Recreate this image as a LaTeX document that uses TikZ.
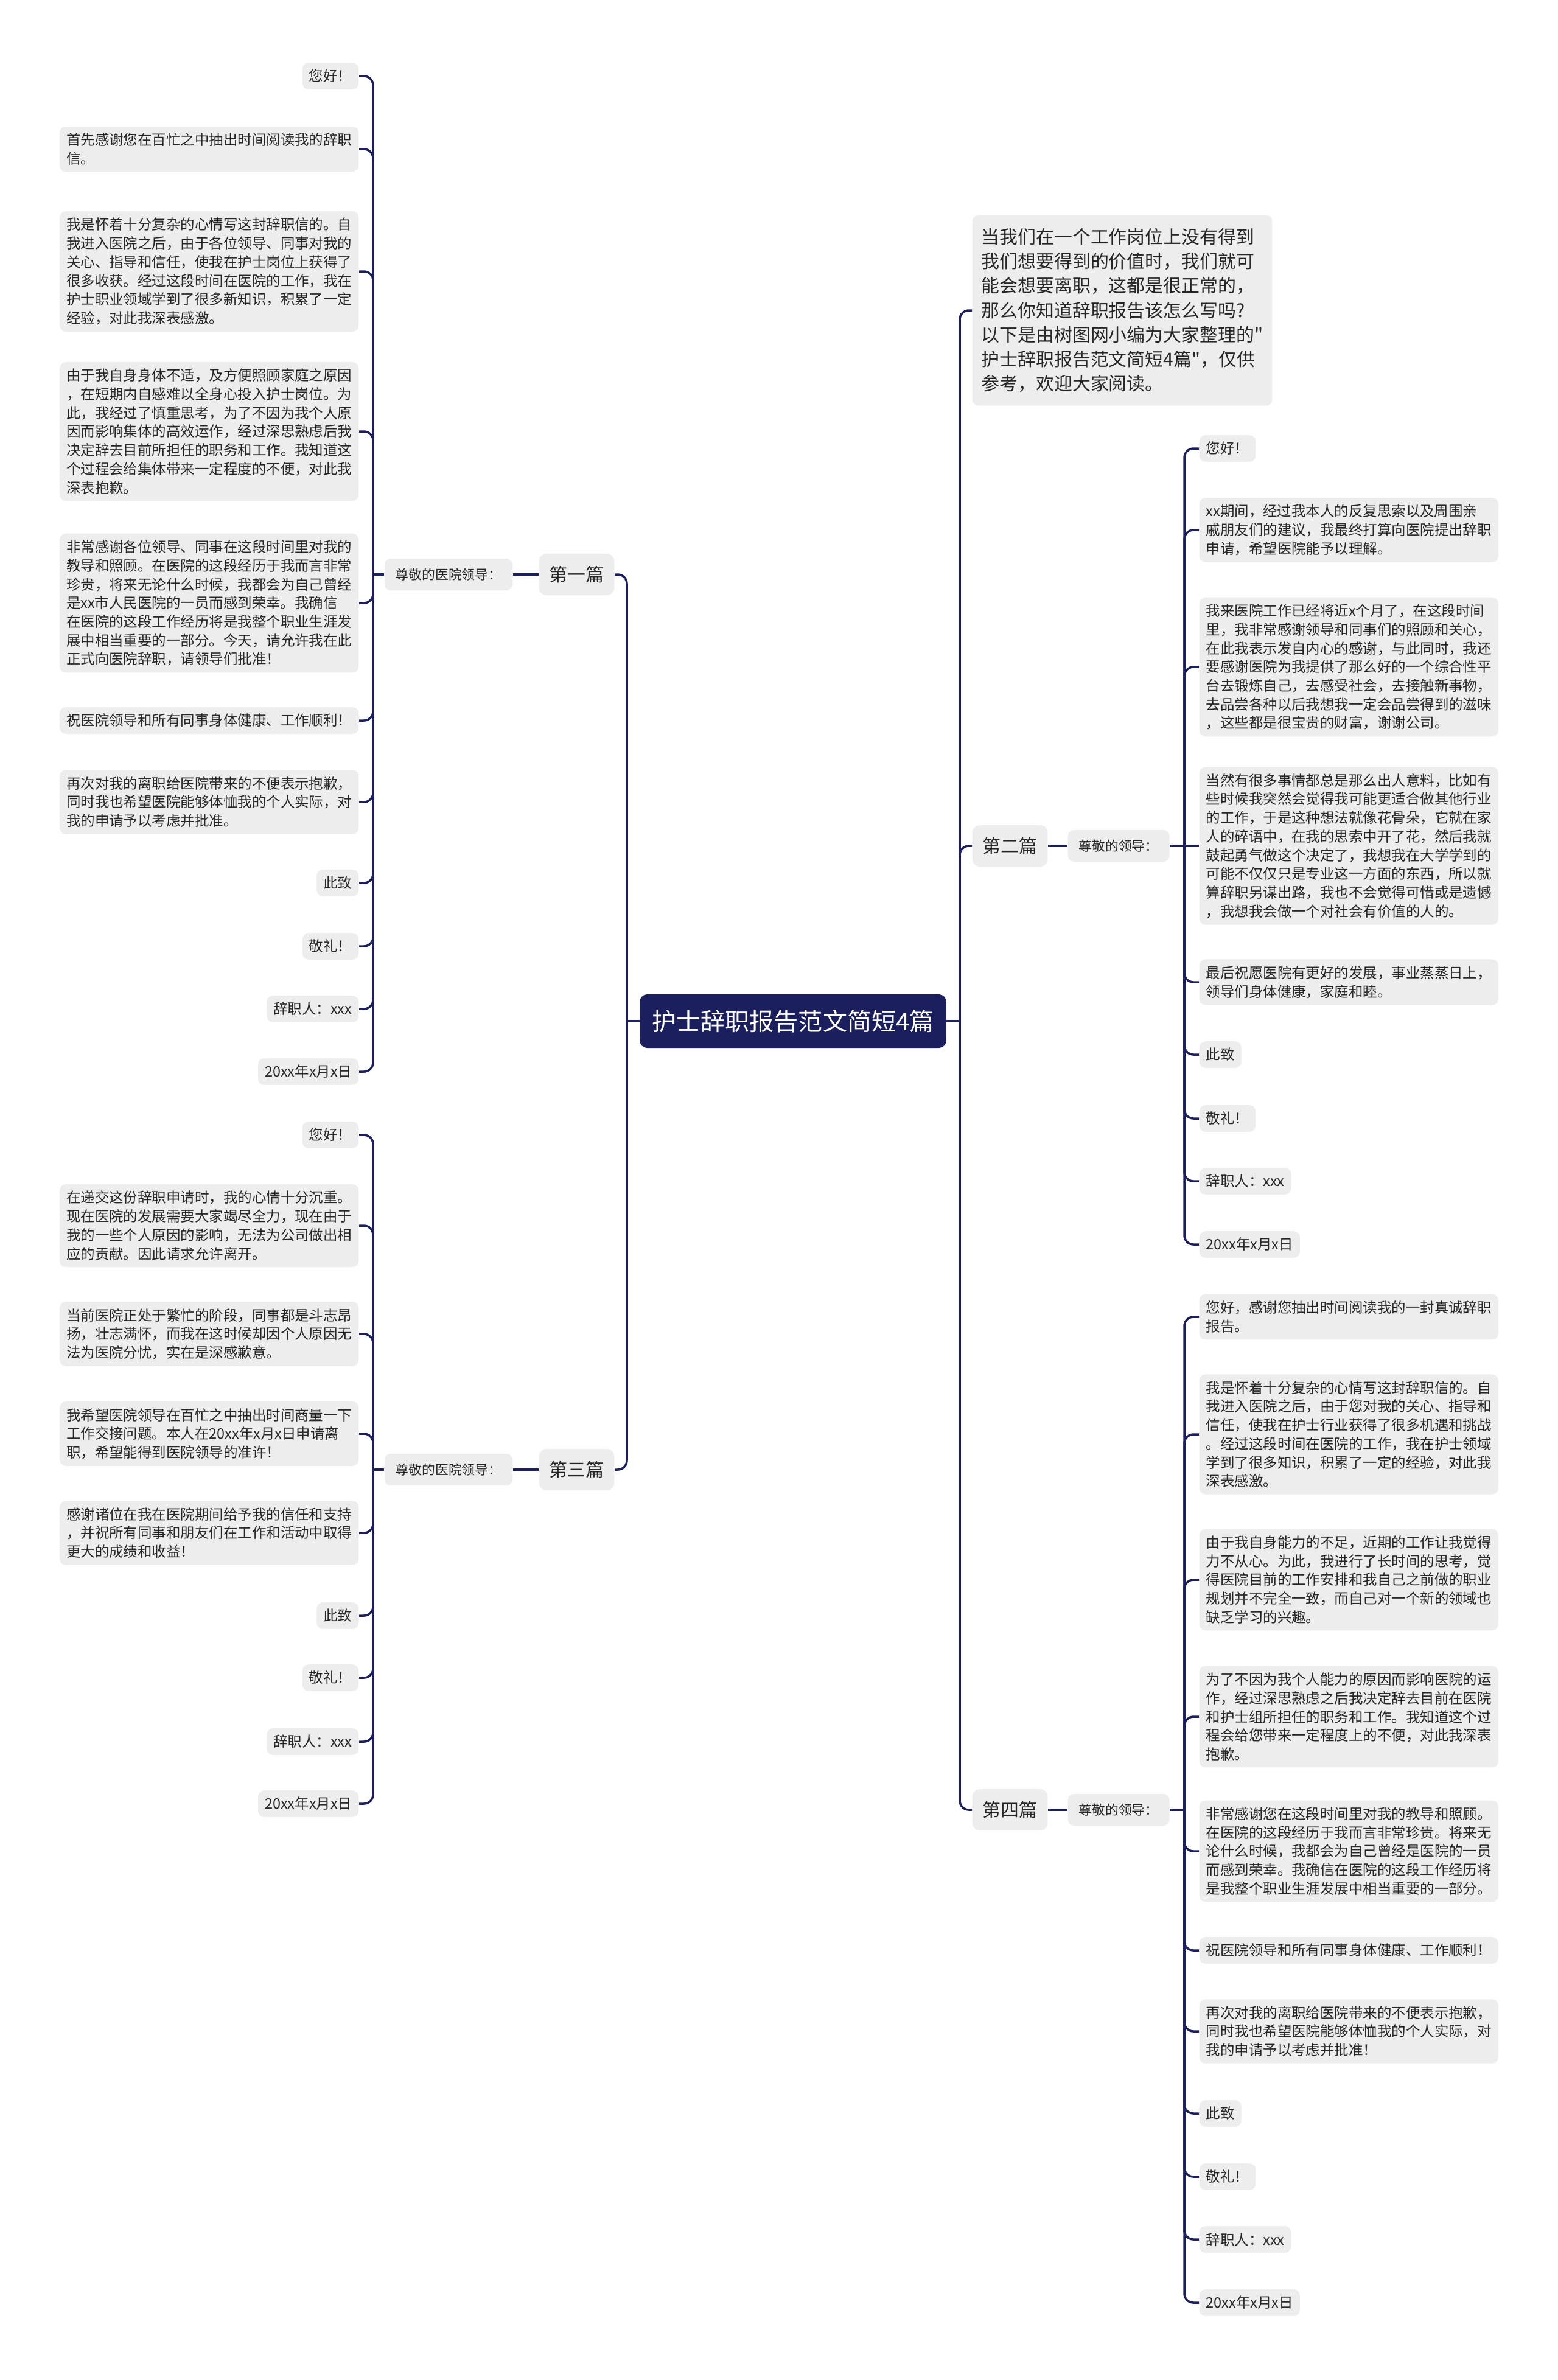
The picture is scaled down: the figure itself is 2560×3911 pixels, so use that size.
\documentclass[tikz,border=0pt]{standalone}
\usepackage{fontspec}
\newfontfamily\cjk{Noto Sans CJK SC}
\definecolor{navy}{RGB}{27,31,94}
\definecolor{boxgray}{RGB}{237,237,237}
\definecolor{ink}{RGB}{38,38,38}

\begin{document}
\begin{tikzpicture}[x=0.01cm, y=-0.01cm,
  conn/.style={draw=navy, line width=1pt, rounded corners=0.15cm},
  leaf/.style={fill=boxgray, text=ink, rounded corners=0.1cm, align=left,
    inner xsep=0.11cm, inner ysep=0.11cm, font=\cjk\fontsize{6.67}{8.73}\selectfont},
  lead/.style={fill=boxgray, text=ink, rounded corners=0.1cm,
    inner xsep=0.18cm, minimum height=0.52cm, font=\cjk\fontsize{6.2}{8}\selectfont},
  part/.style={fill=boxgray, text=ink, rounded corners=0.12cm,
    inner xsep=0.17cm, minimum height=0.68cm, font=\cjk\fontsize{8.5}{10}\selectfont},
  topic/.style={fill=navy, text=white, rounded corners=0.12cm,
    inner xsep=0.2cm, minimum height=0.88cm, font=\cjk\fontsize{11.4}{13}\selectfont}]

  % 画布
  \fill[white] (0,0) rectangle (2560,3911);
  \useasboundingbox (0,0) rectangle (2560,3911);

  % 中心主题
  \node[topic] (title) at (1303,1678) {护士辞职报告范文简短4篇};
  \coordinate (lj) at (1030,1678);
  \coordinate (rj) at (1577,1678);
  \draw[conn] (title.west) -- (lj);
  \draw[conn] (title.east) -- (rj);

  % 引言
  \node[leaf, anchor=west, inner xsep=0.15cm, inner ysep=0.22cm,
    font=\cjk\fontsize{8.5}{11.4}\selectfont] (intro) at (1597,510)
    {当我们在一个工作岗位上没有得到\\我们想要得到的价值时，我们就可\\能会想要离职，这都是很正常的，\\那么你知道辞职报告该怎么写吗?\\以下是由树图网小编为大家整理的"\\护士辞职报告范文简短4篇"，仅供\\参考，欢迎大家阅读。};
  \draw[conn] (rj) |- (intro.west);

  % 第一篇
  \node[part, anchor=east] (p1) at (1010,944) {第一篇};
  \node[lead, anchor=east] (lead1) at (843,944) {尊敬的医院领导：};
  \coordinate (ja) at (613,944);
  \draw[conn] (lj) |- (p1.east);
  \draw[conn] (lead1.east) -- (p1.west);
  \draw[conn] (lead1.west) -- (ja);
  \foreach \y/\txt [count=\i] in {
    125/{您好！},
    245/{首先感谢您在百忙之中抽出时间阅读我的辞职\\信。},
    446/{我是怀着十分复杂的心情写这封辞职信的。自\\我进入医院之后，由于各位领导、同事对我的\\关心、指导和信任，使我在护士岗位上获得了\\很多收获。经过这段时间在医院的工作，我在\\护士职业领域学到了很多新知识，积累了一定\\经验，对此我深表感激。},
    709/{由于我自身身体不适，及方便照顾家庭之原因\\，在短期内自感难以全身心投入护士岗位。为\\此，我经过了慎重思考，为了不因为我个人原\\因而影响集体的高效运作，经过深思熟虑后我\\决定辞去目前所担任的职务和工作。我知道这\\个过程会给集体带来一定程度的不便，对此我\\深表抱歉。},
    991/{非常感谢各位领导、同事在这段时间里对我的\\教导和照顾。在医院的这段经历于我而言非常\\珍贵，将来无论什么时候，我都会为自己曾经\\是xx市人民医院的一员而感到荣幸。我确信\\在医院的这段工作经历将是我整个职业生涯发\\展中相当重要的一部分。今天，请允许我在此\\正式向医院辞职，请领导们批准！},
    1184/{祝医院领导和所有同事身体健康、工作顺利！},
    1318/{再次对我的离职给医院带来的不便表示抱歉，\\同时我也希望医院能够体恤我的个人实际，对\\我的申请予以考虑并批准。},
    1451/{此致},
    1555/{敬礼！},
    1658/{辞职人：xxx},
    1761/{20xx年x月x日}} {
    \node[leaf, anchor=east] (a\i) at (590,\y) {\txt};
    \draw[conn] (ja) |- (a\i.east);
  }

  % 第三篇
  \node[part, anchor=east] (p3) at (1010,2415) {第三篇};
  \node[lead, anchor=east] (lead3) at (843,2415) {尊敬的医院领导：};
  \coordinate (jc) at (613,2415);
  \draw[conn] (lj) |- (p3.east);
  \draw[conn] (lead3.east) -- (p3.west);
  \draw[conn] (lead3.west) -- (jc);
  \foreach \y/\txt [count=\i] in {
    1865/{您好！},
    2014/{在递交这份辞职申请时，我的心情十分沉重。\\现在医院的发展需要大家竭尽全力，现在由于\\我的一些个人原因的影响，无法为公司做出相\\应的贡献。因此请求允许离开。},
    2192/{当前医院正处于繁忙的阶段，同事都是斗志昂\\扬，壮志满怀，而我在这时候却因个人原因无\\法为医院分忧，实在是深感歉意。},
    2356/{我希望医院领导在百忙之中抽出时间商量一下\\工作交接问题。本人在20xx年x月x日申请离\\职，希望能得到医院领导的准许！},
    2519/{感谢诸位在我在医院期间给予我的信任和支持\\，并祝所有同事和朋友们在工作和活动中取得\\更大的成绩和收益！},
    2655/{此致},
    2757/{敬礼！},
    2862/{辞职人：xxx},
    2964/{20xx年x月x日}} {
    \node[leaf, anchor=east] (c\i) at (590,\y) {\txt};
    \draw[conn] (jc) |- (c\i.east);
  }

  % 第二篇
  \node[part, anchor=west] (p2) at (1597,1390) {第二篇};
  \node[lead, anchor=west] (lead2) at (1754,1390) {尊敬的领导：};
  \coordinate (jb) at (1946,1390);
  \draw[conn] (rj) |- (p2.west);
  \draw[conn] (p2.east) -- (lead2.west);
  \draw[conn] (lead2.east) -- (jb);
  \foreach \y/\txt [count=\i] in {
    737/{您好！},
    871/{xx期间，经过我本人的反复思索以及周围亲\\戚朋友们的建议，我最终打算向医院提出辞职\\申请，希望医院能予以理解。},
    1096/{我来医院工作已经将近x个月了，在这段时间\\里，我非常感谢领导和同事们的照顾和关心，\\在此我表示发自内心的感谢，与此同时，我还\\要感谢医院为我提供了那么好的一个综合性平\\台去锻炼自己，去感受社会，去接触新事物，\\去品尝各种以后我想我一定会品尝得到的滋味\\，这些都是很宝贵的财富，谢谢公司。},
    1390/{当然有很多事情都总是那么出人意料，比如有\\些时候我突然会觉得我可能更适合做其他行业\\的工作，于是这种想法就像花骨朵，它就在家\\人的碎语中，在我的思索中开了花，然后我就\\鼓起勇气做这个决定了，我想我在大学学到的\\可能不仅仅只是专业这一方面的东西，所以就\\算辞职另谋出路，我也不会觉得可惜或是遗憾\\，我想我会做一个对社会有价值的人的。},
    1614/{最后祝愿医院有更好的发展，事业蒸蒸日上，\\领导们身体健康，家庭和睦。},
    1733/{此致},
    1838/{敬礼！},
    1941/{辞职人：xxx},
    2045/{20xx年x月x日}} {
    \node[leaf, anchor=west] (b\i) at (1970,\y) {\txt};
    \ifnum\y=1390\relax
      \draw[conn] (jb) -- (b\i.west);
    \else
      \draw[conn] (jb) |- (b\i.west);
    \fi
  }

  % 第四篇
  \node[part, anchor=west] (p4) at (1597,2974) {第四篇};
  \node[lead, anchor=west] (lead4) at (1754,2974) {尊敬的领导：};
  \coordinate (jd) at (1946,2974);
  \draw[conn] (rj) |- (p4.west);
  \draw[conn] (p4.east) -- (lead4.west);
  \draw[conn] (lead4.east) -- (jd);
  \foreach \y/\txt [count=\i] in {
    2164/{您好，感谢您抽出时间阅读我的一封真诚辞职\\报告。},
    2357/{我是怀着十分复杂的心情写这封辞职信的。自\\我进入医院之后，由于您对我的关心、指导和\\信任，使我在护士行业获得了很多机遇和挑战\\。经过这段时间在医院的工作，我在护士领域\\学到了很多知识，积累了一定的经验，对此我\\深表感激。},
    2596/{由于我自身能力的不足，近期的工作让我觉得\\力不从心。为此，我进行了长时间的思考，觉\\得医院目前的工作安排和我自己之前做的职业\\规划并不完全一致，而自己对一个新的领域也\\缺乏学习的兴趣。},
    2821/{为了不因为我个人能力的原因而影响医院的运\\作，经过深思熟虑之后我决定辞去目前在医院\\和护士组所担任的职务和工作。我知道这个过\\程会给您带来一定程度上的不便，对此我深表\\抱歉。},
    3042/{非常感谢您在这段时间里对我的教导和照顾。\\在医院的这段经历于我而言非常珍贵。将来无\\论什么时候，我都会为自己曾经是医院的一员\\而感到荣幸。我确信在医院的这段工作经历将\\是我整个职业生涯发展中相当重要的一部分。},
    3205/{祝医院领导和所有同事身体健康、工作顺利！},
    3338/{再次对我的离职给医院带来的不便表示抱歉，\\同时我也希望医院能够体恤我的个人实际，对\\我的申请予以考虑并批准！},
    3473/{此致},
    3577/{敬礼！},
    3680/{辞职人：xxx},
    3784/{20xx年x月x日}} {
    \node[leaf, anchor=west] (d\i) at (1970,\y) {\txt};
    \draw[conn] (jd) |- (d\i.west);
  }

\end{tikzpicture}
\end{document}
